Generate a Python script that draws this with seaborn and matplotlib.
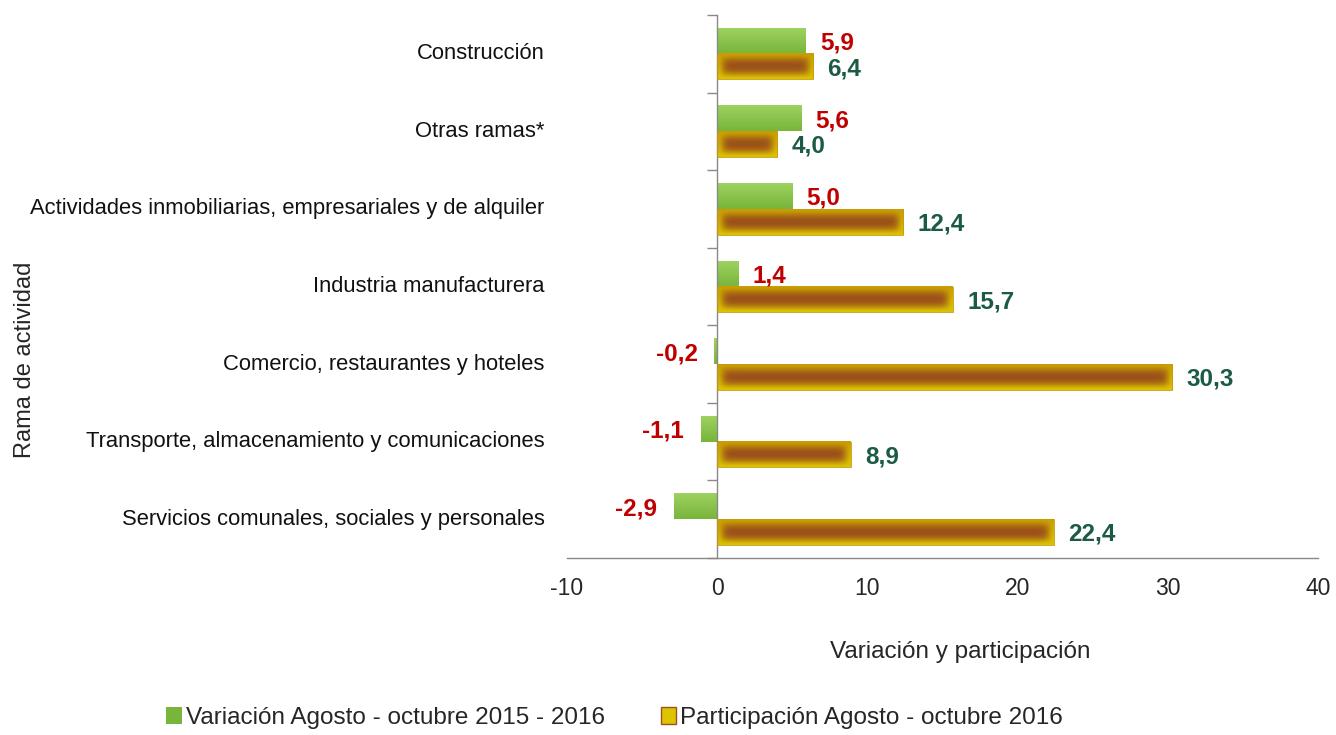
import numpy as np
import pandas as pd
import matplotlib
matplotlib.use("Agg")
import matplotlib.pyplot as plt
from matplotlib.patches import Patch
from matplotlib.colors import to_rgb
import seaborn as sns

ramas = ["Construcción", "Otras ramas*",
         "Actividades inmobiliarias, empresariales y de alquiler",
         "Industria manufacturera", "Comercio, restaurantes y hoteles",
         "Transporte, almacenamiento y comunicaciones",
         "Servicios comunales, sociales y personales"]
variacion     = [5.9, 5.6, 5.0, 1.4, -0.2, -1.1, -2.9]
participacion = [6.4, 4.0, 12.4, 15.7, 30.3, 8.9, 22.4]
series = ["Variación Agosto - octubre 2015 - 2016",
          "Participación Agosto - octubre 2016"]
xticks = [-10, 0, 10, 20, 30, 40]

df = pd.DataFrame({
    "rama":  ramas * 2,
    "valor": variacion + participacion,
    "serie": [series[0]] * len(ramas) + [series[1]] * len(ramas),
})

sns.set_theme(style="white")
plt.rcParams["font.family"] = ["Liberation Sans", "DejaVu Sans"]

GREEN_TOP, GREEN_BOT = "#9ED160", "#78B53A"
GOLD_TOP, GOLD_BOT, BROWN = "#C9A000", "#DCC400", "#9A4E1A"
RED_TXT, GREEN_TXT = "#C00000", "#1B5B44"
GRID = "#898989"

fig = plt.figure(figsize=(13.36, 7.35), dpi=100)
ax = fig.add_axes([0.4244, 0.2408, 0.5621, 0.7388])
sns.barplot(data=df, y="rama", x="valor", hue="serie", hue_order=series,
            order=ramas, orient="h", width=0.66, saturation=1,
            palette=[GREEN_BOT, BROWN], legend=False, ax=ax)
ax.set_xlim(-10, 40)
ax.set_ylim(len(ramas) - 0.5, -0.5)

# gradient fills on top of the seaborn bars
px_x = 751 / 50.0
px_y = 543 / len(ramas)

def green_img(w, h):
    t = np.linspace(0, 1, h)[:, None] * np.ones((1, w))
    a, b = np.array(to_rgb(GREEN_TOP)), np.array(to_rgb(GREEN_BOT))
    return a * (1 - t[..., None]) + b * t[..., None]

def gold_img(w, h):
    ix = np.arange(w) + 0.5
    iy = np.arange(h) + 0.5
    dx = np.minimum(ix, w - ix)[None, :]
    dy = np.minimum(iy, h - iy)[:, None]
    # soft "blurred" core: brown centre fading to gold at the rim
    t = (1 - np.exp(-(dx / 7.0) ** 2)) * (1 - np.exp(-(dy / 6.5) ** 2))
    v = (iy / h)[:, None] * np.ones((1, w))
    edge = np.array(to_rgb(GOLD_TOP)) * (1 - v[..., None]) + np.array(to_rgb(GOLD_BOT)) * v[..., None]
    b = np.array(to_rgb(BROWN))
    return edge * (1 - t[..., None]) + b * t[..., None]

for k, cont in enumerate(ax.containers):
    for bar in cont:
        x0, y0 = bar.get_x(), bar.get_y()
        w, h = bar.get_width(), bar.get_height()
        xa, xb = min(x0, x0 + w), max(x0, x0 + w)
        wp = max(int(abs(w) * px_x), 2)
        hp = max(int(h * px_y), 2)
        img = green_img(wp, hp) if k == 0 else gold_img(wp, hp)
        ax.imshow(img, extent=(xa, xb, y0 + h, y0), aspect="auto",
                  interpolation="bilinear", zorder=2)
        bar.set_facecolor("none")
        bar.set_zorder(3)
        if k == 1:
            bar.set_edgecolor("#C8980A")
            bar.set_linewidth(0.6)
        else:
            bar.set_edgecolor("none")
ax.set_xlim(-10, 40)
ax.set_ylim(len(ramas) - 0.5, -0.5)

# value labels
for k, (cont, vals, col) in enumerate(zip(ax.containers,
                                          [variacion, participacion],
                                          [RED_TXT, GREEN_TXT])):
    for bar, v in zip(cont, vals):
        yc = bar.get_y() + bar.get_height() / 2 + 0.03
        xe = v + (0.95 if v >= 0 else -1.1)
        ax.text(xe, yc, f"{v:.1f}".replace(".", ","), ha="left" if v >= 0 else "right",
                va="center", color=col, fontsize=17.5, fontweight="bold")

# axes styling
sns.despine(ax=ax, top=True, right=True)
ax.spines["left"].set_position(("data", 0))
for s in ("left", "bottom"):
    ax.spines[s].set_color(GRID)
    ax.spines[s].set_linewidth(1)
ax.set_xticks(xticks)
ax.set_xticklabels([str(t) for t in xticks], fontsize=16.5)
ax.tick_params(axis="x", direction="out", length=6, color=GRID, pad=8)
ax.set_yticks(range(len(ramas)))
ax.set_yticklabels([])
ax.tick_params(axis="y", which="major", length=0)
ax.set_yticks(np.arange(-0.5, len(ramas)), minor=True)
ax.tick_params(axis="y", which="minor", direction="out", length=7, color=GRID, left=True)

for i, r in enumerate(ramas):
    ax.text(-0.03, i, r, transform=ax.get_yaxis_transform(), ha="right",
            va="center", fontsize=15.8, color="#111111")

ax.set_xlabel("Variación y participación", fontsize=17.5, labelpad=29)
ax.xaxis.label.set_x(0.524)
ax.set_ylabel("Rama de actividad", fontsize=17)
ax.yaxis.set_label_coords(-0.707, 0.365)

handles = [Patch(facecolor=GREEN_BOT, edgecolor="none"),
           Patch(facecolor=GOLD_BOT, edgecolor="#A0501A")]
fig.legend(handles, series, loc="center", bbox_to_anchor=(0.46, 0.023),
           ncol=2, frameon=False, fontsize=17.5, handlelength=0.65,
           handleheight=0.65, handletextpad=0.15, columnspacing=2.3)

fig.savefig("out.png", dpi=100)
